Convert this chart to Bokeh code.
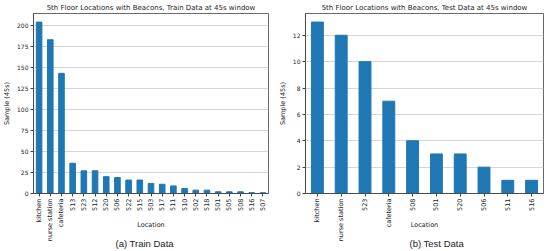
import math
from bokeh.plotting import figure
from bokeh.models import Range1d, FixedTicker, Title
from bokeh.layouts import row
from bokeh.embed import file_html
from bokeh.resources import INLINE

train_locs = ["kitchen", "nurse station", "cafeteria", "513", "523", "512", "520", "506",
              "522", "515", "503", "517", "511", "510", "502", "518", "501", "505", "508",
              "516", "507"]
train_vals = [204, 183, 143, 36, 27, 27, 20, 19, 16, 16, 12, 11, 9, 6, 4, 4, 2, 2, 2, 1, 1]
train_yticks = [0, 25, 50, 75, 100, 125, 150, 175, 200]

test_locs = ["kitchen", "nurse station", "523", "cafeteria", "508", "501", "520", "506", "511", "516"]
test_vals = [13, 12, 10, 7, 4, 3, 3, 2, 1, 1]
test_yticks = [0, 2, 4, 6, 8, 10, 12]

BAR = "#1f77b4"
FONT = "DejaVu Sans"


def make(title, cats, vals, yticks, caption, border_left, border_right, cap_off):
    n = len(cats)
    xs = list(range(n))
    p = figure(width=275, height=251, output_backend="svg", toolbar_location=None,
               x_range=Range1d(-0.5, n - 0.5), y_range=Range1d(0, max(vals) * 1.05),
               min_border_left=border_left, min_border_right=border_right,
               min_border_top=0, min_border_bottom=54)
    p.title.text = title
    p.title.text_font = FONT
    p.title.text_font_size = "7px"
    p.title.text_font_style = "normal"
    p.title.text_color = "#222222"
    p.title.align = "center"
    p.title.standoff = 3
    p.vbar(x=xs, top=vals, width=0.5, color=BAR)
    p.outline_line_color = "#444444"
    p.outline_line_width = 0.8
    p.xgrid.visible = False
    p.ygrid.grid_line_color = "#cccccc"
    p.ygrid.grid_line_width = 0.8
    p.ygrid.ticker = FixedTicker(ticks=yticks)

    p.xaxis.ticker = FixedTicker(ticks=xs)
    p.xaxis.major_label_overrides = {i: c for i, c in enumerate(cats)}
    p.xaxis.major_label_orientation = math.pi / 2
    p.yaxis.ticker = FixedTicker(ticks=yticks)
    for ax in (p.xaxis[0], p.yaxis[0]):
        ax.major_label_text_font = FONT
        ax.major_label_text_color = "#222222"
        ax.major_tick_out = 3
        ax.major_tick_in = 0
        ax.minor_tick_out = 0
        ax.minor_tick_in = 0
        ax.axis_line_color = "#444444"
        ax.axis_line_width = 0.8
        ax.major_tick_line_color = "#444444"
        ax.major_label_standoff = 2
        ax.axis_label_text_font = FONT
        ax.axis_label_text_font_size = "6.5px"
        ax.axis_label_text_font_style = "normal"
        ax.axis_label_text_color = "#222222"
    p.xaxis.major_label_text_font_size = "6.5px"
    p.yaxis.major_label_text_font_size = "6px"
    p.yaxis.axis_label = "Sample (45s)"
    p.yaxis.axis_label_standoff = 3
    p.xaxis.axis_label = "Location"
    p.xaxis.axis_label_standoff = -23

    cap = Title(text=caption, align="left", offset=cap_off, standoff=6,
                text_font="Liberation Sans", text_font_size="9.5px",
                text_font_style="normal", text_color="#222222")
    p.add_layout(cap, "below")
    return p


p1 = make("5th Floor Locations with Beacons, Train Data at 45s window", train_locs, train_vals,
          train_yticks, "(a) Train Data", 33, 7, 82)
p2 = make("5th Floor Locations with Beacons, Test Data at 45s window", test_locs, test_vals,
          test_yticks, "(b) Test Data", 29, 7, 104)

layout = row(p1, p2)
open("out.html", "w").write(file_html(layout, INLINE))
